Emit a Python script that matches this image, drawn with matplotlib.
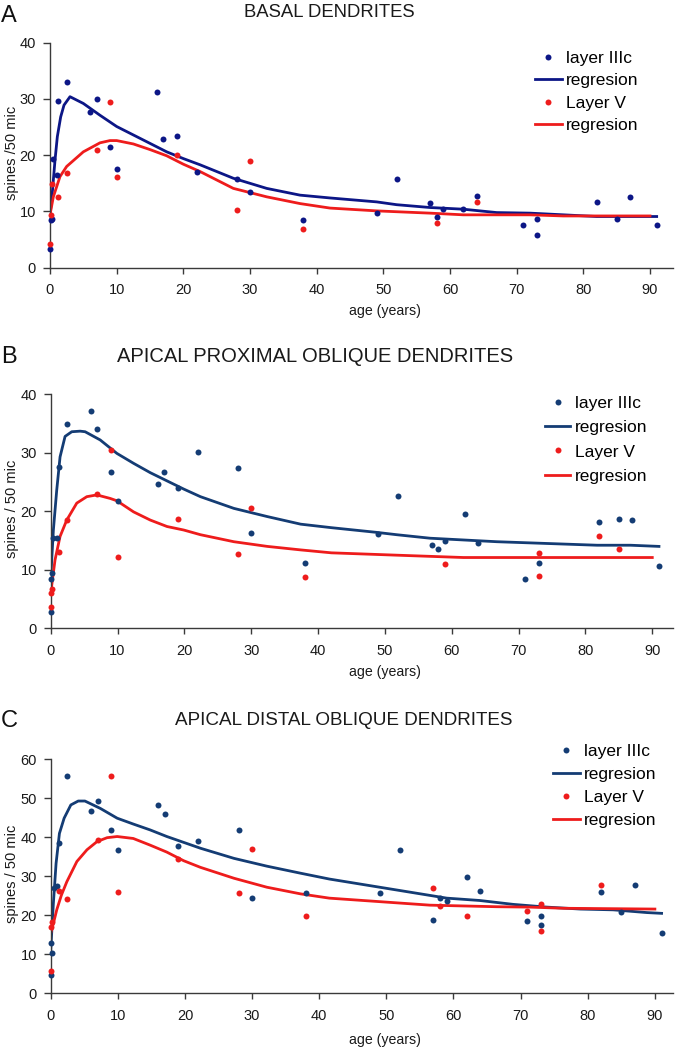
import matplotlib
matplotlib.use("Agg")
import matplotlib.pyplot as plt
from matplotlib.lines import Line2D

plt.rcParams["font.family"] = ["Liberation Sans", "DejaVu Sans"]

W, H = 676, 1050

# ---- panel A: basal dendrites ----
a_l3_age = [0, 0.1, 0.35, 0.5, 1, 1.25, 2.5, 6, 7, 9, 10, 16, 17, 19, 22, 28, 30, 38,
            49, 52, 57, 58, 59, 62, 64, 71, 73, 73, 82, 85, 87, 91]
a_l3_val = [3.3, 8.5, 8.7, 19.4, 16.4, 29.7, 33.1, 27.6, 30.0, 21.5, 17.5, 31.2, 22.8, 23.5,
            17.1, 15.7, 13.4, 8.4, 9.7, 15.8, 11.5, 9.1, 10.5, 10.5, 12.8, 7.6, 8.6, 5.9,
            11.7, 8.7, 12.6, 7.6]
a_l5_age = [0, 0.15, 0.25, 1.25, 2.5, 7, 9, 10, 19, 28, 30, 38, 58, 64]
a_l5_val = [4.3, 9.4, 14.9, 12.6, 16.9, 20.9, 29.4, 16.2, 20.1, 10.2, 19.0, 6.8, 7.9, 11.6]
a_l3_fit_age = [0, 0.25, 0.75, 1.1, 1.6, 2.1, 3, 5, 7.5, 10, 12.5, 15, 17.5, 20, 22.5, 27.5,
                32.5, 37.5, 42, 49, 52, 57, 62, 67, 72, 77, 82, 91]
a_l3_fit = [9.5, 12, 19.1, 23.3, 26.8, 28.9, 30.4, 29.2, 27.1, 25.1, 23.6, 22.1, 20.6, 19.4,
            18.3, 15.9, 14.1, 12.9, 12.4, 11.7, 11.2, 10.7, 10.4, 9.8, 9.7, 9.4, 9.1, 9.1]
a_l5_fit_age = [0, 0.5, 1.5, 2.5, 5, 7.5, 9, 10, 12.5, 15, 17.5, 20, 22.5, 27.5, 32.5, 37.5,
                42, 49, 57, 62, 72, 77, 90]
a_l5_fit = [9.4, 12.6, 16.2, 18.0, 20.6, 22.2, 22.6, 22.6, 22.0, 21.0, 19.9, 18.4, 17.1, 14.1,
            12.6, 11.4, 10.6, 10.1, 9.7, 9.4, 9.4, 9.2, 9.2]

# ---- panel B: apical proximal oblique ----
b_l3_age = [0, 0, 0.25, 0.4, 0.9, 1.3, 2.4, 6, 7, 9, 10, 16, 17, 19, 22, 28, 30, 38,
            49, 52, 57, 58, 59, 62, 64, 71, 73, 82, 85, 87, 91]
b_l3_val = [2.8, 8.5, 9.5, 15.4, 15.4, 27.5, 35.0, 37.2, 34.0, 26.8, 21.8, 24.7, 26.8, 24.0,
            30.2, 27.4, 16.3, 11.1, 16.1, 22.6, 14.3, 13.6, 15.0, 19.6, 14.5, 8.5, 11.1,
            18.2, 18.6, 18.5, 10.7]
b_l5_age = [0, 0.05, 0.25, 1.3, 2.4, 7, 9, 10, 19, 28, 30, 38, 59, 73, 73, 82, 85]
b_l5_val = [3.7, 6.0, 6.7, 13.0, 18.5, 22.9, 30.4, 12.2, 18.7, 12.7, 20.5, 8.7, 11.0, 12.9,
            8.9, 15.7, 13.6]
b_l3_fit_age = [0, 0.4, 0.9, 1.4, 2.15, 3.15, 4.4, 5.15, 7.4, 9.9, 12.4, 14.9, 17.4, 19.9,
                22.4, 27.4, 32.4, 37.4, 42, 48.75, 51.75, 56.75, 61.75, 66.75, 71.75, 76.75,
                81.75, 86.75, 91]
b_l3_fit = [8.5, 16.8, 23.6, 29.3, 32.8, 33.6, 33.7, 33.6, 32.2, 29.9, 28.2, 26.6, 25.2, 23.8,
            22.5, 20.5, 19.1, 17.8, 17.2, 16.4, 16.0, 15.4, 15.1, 14.8, 14.6, 14.4, 14.2,
            14.2, 14.0]
b_l5_fit_age = [0, 0.65, 1.4, 2.4, 3.9, 5.4, 6.9, 8.9, 9.9, 12.4, 14.9, 17.4, 19.9, 22.4,
                27.4, 32.4, 37.4, 42, 51.75, 56.75, 61.75, 71.75, 90]
b_l5_fit = [6.0, 11.7, 15.7, 18.5, 21.4, 22.5, 22.8, 22.2, 21.8, 19.9, 18.5, 17.4, 16.8, 16.0,
            14.8, 14.0, 13.4, 12.9, 12.5, 12.3, 12.1, 12.1, 12.1]

# ---- panel C: apical distal oblique ----
c_l3_age = [0, 0.05, 0.25, 0.5, 1.0, 1.2, 2.4, 6, 7, 9, 10, 16, 17, 19, 22, 28, 30, 38,
            49, 52, 57, 58, 59, 62, 64, 71, 73, 73, 82, 85, 87, 91]
c_l3_val = [4.6, 12.8, 10.3, 27.0, 27.4, 38.5, 55.6, 46.8, 49.2, 41.8, 36.8, 48.3, 46.0, 37.8,
            39.1, 41.8, 24.4, 25.8, 25.7, 36.8, 18.8, 24.4, 23.7, 29.7, 26.2, 18.5, 19.7,
            17.5, 26.0, 20.8, 27.7, 15.5]
c_l5_age = [0, 0.05, 0.15, 1.2, 2.4, 7, 9, 10, 19, 28, 30, 38, 57, 58, 62, 71, 73, 73, 82]
c_l5_val = [5.8, 16.9, 18.4, 26.2, 24.1, 39.2, 55.8, 26.0, 34.4, 25.6, 37.0, 19.7, 27.0, 22.3,
            19.9, 21.0, 22.8, 16.1, 27.7]
c_l3_fit_age = [0, 0.4, 0.8, 1.3, 2.0, 3.0, 4.1, 5.1, 7.4, 9.9, 12.3, 14.8, 17.3, 19.8, 22.3,
                27.3, 32.2, 37.2, 41.5, 49, 54, 59, 63.9, 68.9, 73.9, 78.9, 83.8, 88.8, 91]
c_l3_fit = [11.0, 23.1, 33.3, 41.0, 44.9, 48.3, 49.3, 49.3, 47.4, 44.9, 43.4, 41.9, 40.2, 38.7,
            37.2, 34.6, 32.6, 30.8, 29.3, 27.2, 25.8, 24.4, 23.8, 22.8, 22.1, 21.6, 21.4,
            20.7, 20.5]
c_l5_fit_age = [0, 0.4, 0.9, 1.6, 2.4, 3.9, 5.4, 6.9, 8.4, 9.9, 12.3, 14.8, 17.3, 19.8, 22.3,
                27.3, 32.2, 37.2, 41.5, 49, 56.5, 61.4, 66.4, 71.4, 76.4, 90]
c_l5_fit = [15.4, 17.9, 21.4, 25.2, 28.6, 33.8, 36.8, 38.9, 39.9, 40.2, 39.7, 38.0, 36.2, 34.0,
            32.3, 29.5, 27.2, 25.5, 24.4, 23.5, 22.6, 22.4, 22.2, 22.1, 21.8, 21.6]

legend_labels = ["layer IIIc", "regresion", "Layer V", "regresion"]
RED = "#ee1c1c"

panels = [
    # box = axes in pixels (left, bottom, right, top); leg = handle left, first-row centre,
    # handle length, row spacing
    dict(letter="A", title="BASAL DENDRITES", tx=329, ty=17, ly=22, tsize=13.3,
         ylabel="spines /50 mic", box=(50, 267.7, 673, 42.7), xmax=93.45, ymax=40,
         blue="#0c1686", leg=(535, 56.7, 1.55, 0.42), xly=311,
         data=(a_l3_age, a_l3_val, a_l5_age, a_l5_val,
               a_l3_fit_age, a_l3_fit, a_l5_fit_age, a_l5_fit)),
    dict(letter="B", title="APICAL PROXIMAL OBLIQUE DENDRITES", tx=315, ty=362, ly=363,
         tsize=14.5, ylabel="spines / 50 mic", box=(50.7, 628.3, 673, 394.3), xmax=93.1,
         ymax=40, blue="#143c74", leg=(545, 401.7, 1.45, 0.53), xly=672,
         data=(b_l3_age, b_l3_val, b_l5_age, b_l5_val,
               b_l3_fit_age, b_l3_fit, b_l5_fit_age, b_l5_fit)),
    dict(letter="C", title="APICAL DISTAL OBLIQUE DENDRITES", tx=344, ty=725, ly=727,
         tsize=13.6, ylabel="spines / 50 mic", box=(50.7, 993.3, 673, 759.3), xmax=92.7,
         ymax=60, blue="#143c74", leg=(553, 749.7, 1.55, 0.45), xly=1040,
         data=(c_l3_age, c_l3_val, c_l5_age, c_l5_val,
               c_l3_fit_age, c_l3_fit, c_l5_fit_age, c_l5_fit)),
]

fig = plt.figure(figsize=(W / 100, H / 100), dpi=100)

for p in panels:
    left, bottom, right, top = p["box"]
    ax = fig.add_axes([left / W, 1 - bottom / H, (right - left) / W, (bottom - top) / H])
    l3x, l3y, l5x, l5y, f3x, f3y, f5x, f5y = p["data"]

    ax.plot(l3x, l3y, "o", color=p["blue"], ms=4.3, mec="none", clip_on=False, zorder=3)
    ax.plot(f3x, f3y, "-", color=p["blue"], lw=2, zorder=2)
    ax.plot(l5x, l5y, "o", color=RED, ms=4.3, mec="none", clip_on=False, zorder=3)
    ax.plot(f5x, f5y, "-", color=RED, lw=2, zorder=2)

    ax.set_xlim(0, p["xmax"])
    ax.set_ylim(0, p["ymax"])
    ax.set_xticks(range(0, 100, 10))
    ax.set_yticks(range(0, p["ymax"] + 1, 10))
    for s in ("top", "right"):
        ax.spines[s].set_visible(False)
    for s in ("left", "bottom"):
        ax.spines[s].set_color("#3a3a3a")
        ax.spines[s].set_linewidth(1.0)
    ax.tick_params(axis="x", direction="out", length=4, width=1, color="#3a3a3a",
                   labelsize=10.5, pad=7, labelcolor="#1a1a1a")
    ax.tick_params(axis="y", direction="out", length=5, width=1, color="#3a3a3a",
                   labelsize=10.5, pad=5, labelcolor="#1a1a1a")

    # axis labels, placed where the reference has them
    fig.text(12 / W, 1 - ((top + bottom) / 2 - 2) / H, p["ylabel"], rotation=90,
             ha="center", va="center", fontsize=10.5, color="#1a1a1a")
    fig.text(385 / W, 1 - p["xly"] / H, "age (years)", ha="center", va="center",
             fontsize=10.2, color="#1a1a1a")

    fig.text(p["tx"] / W, 1 - p["ty"] / H, p["title"], ha="center", va="baseline",
             fontsize=p["tsize"], color="#1a1a1a")
    fig.text(1 / W, 1 - p["ly"] / H, p["letter"], ha="left", va="baseline",
             fontsize=17, color="#111111")

    hx, hy, hlen, lsp = p["leg"]
    handles = [
        Line2D([], [], ls="none", marker="o", ms=4.3, mec="none", color=p["blue"]),
        Line2D([], [], color=p["blue"], lw=2),
        Line2D([], [], ls="none", marker="o", ms=4.3, mec="none", color=RED),
        Line2D([], [], color=RED, lw=2),
    ]
    ax.legend(handles, legend_labels, loc="upper left",
              bbox_to_anchor=(hx / W, 1 - (hy - 6) / H), bbox_transform=fig.transFigure,
              frameon=False, fontsize=12.5, handlelength=hlen, handletextpad=0.25,
              labelspacing=lsp, borderpad=0, borderaxespad=0, numpoints=1)

fig.savefig("out.png", dpi=100)
